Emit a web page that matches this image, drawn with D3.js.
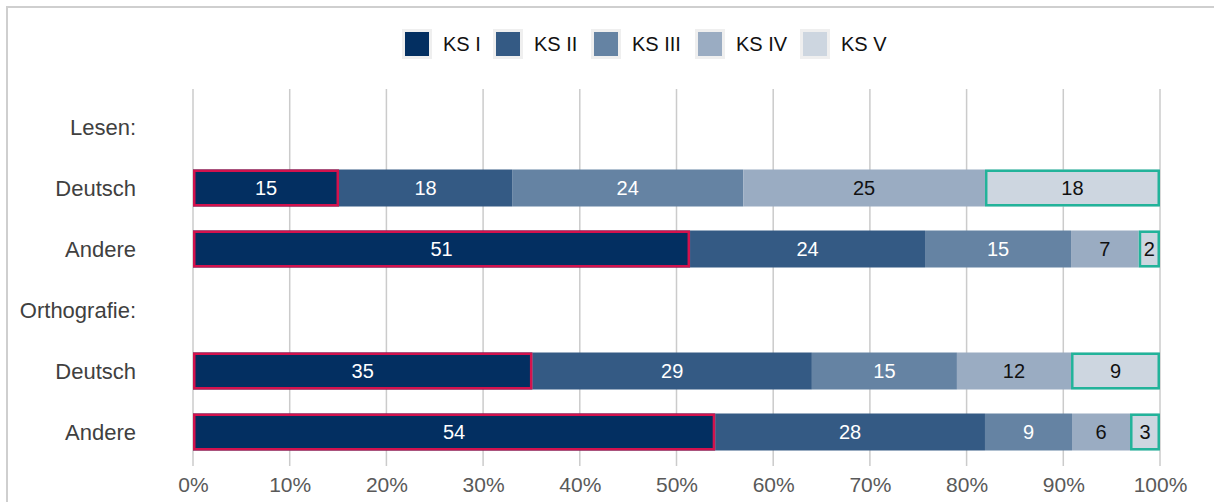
<!DOCTYPE html>
<html>
<head>
<meta charset="utf-8">
<script src="https://cdn.jsdelivr.net/npm/d3@7"></script>
<style>
  body { margin: 0; background: #fff; }
  svg { display: block; font-family: "Liberation Sans", Arial, sans-serif; }
</style>
</head>
<body>
<svg id="chart" width="1214" height="502"></svg>
<script>
const ROW_IDS = ["h1", "r1", "r2", "h2", "r3", "r4"];
const ROW_LABELS = ["Lesen:", "Deutsch", "Andere", "Orthografie:", "Deutsch", "Andere"];
const BAR_ROWS = ["r1", "r2", "r3", "r4"];
const LEVELS = ["KS I", "KS II", "KS III", "KS IV", "KS V"];
const COLORS = ["#032f61", "#345a84", "#6583a3", "#9aacc2", "#cdd6e0"];
const LABEL_COLORS = ["#fff", "#fff", "#fff", "#111", "#111"];

// percent shares per bar (rows r1..r4)
const KS1 = [15.1, 51.4, 35.1, 54.0];
const KS2 = [17.9, 24.3, 28.9, 27.9];
const KS3 = [23.9, 15.1, 15.0, 9.0];
const KS4 = [25.0, 7.0, 11.8, 6.0];
const KS5 = [18.1, 2.2, 9.2, 3.1];
const SERIES = [KS1, KS2, KS3, KS4, KS5];

const TICKS = [0, 10, 20, 30, 40, 50, 60, 70, 80, 90, 100];

const svg = d3.select("#chart");

// frame
svg.append("rect")
  .attr("x", 7).attr("y", 7)
  .attr("width", 1230).attr("height", 520)
  .attr("fill", "none")
  .attr("stroke", "#cfcfcf")
  .attr("stroke-width", 2);

const x = d3.scaleLinear().domain([0, 100]).range([193, 1160]);
const y = d3.scalePoint().domain(ROW_IDS).range([96.5, 462.5]).padding(0.5);
const barH = 37;

// grid
svg.append("g")
  .selectAll("line")
  .data(TICKS)
  .join("line")
  .attr("x1", (d) => x(d)).attr("x2", (d) => x(d))
  .attr("y1", 89).attr("y2", 466)
  .attr("stroke", "#cbcbcb")
  .attr("stroke-width", 1.5);

// x axis labels
const xAxis = d3.axisBottom(x).tickValues(TICKS).tickFormat((d) => d + "%").tickSize(0).tickPadding(0);
const gx = svg.append("g").attr("transform", "translate(0,477)").call(xAxis);
gx.select(".domain").remove();
gx.selectAll("text")
  .attr("font-size", 21)
  .attr("font-family", "Liberation Sans, Arial, sans-serif")
  .attr("fill", "#595959");

// row labels
const yAxis = d3.axisLeft(y).tickFormat((d, i) => ROW_LABELS[i]).tickSize(0).tickPadding(0);
const gy = svg.append("g").attr("transform", "translate(136,0)").call(yAxis);
gy.select(".domain").remove();
gy.selectAll("text")
  .attr("font-size", 22)
  .attr("font-family", "Liberation Sans, Arial, sans-serif")
  .attr("fill", "#404040");

// stacked segments
const segs = [];
BAR_ROWS.forEach((row, r) => {
  let acc = 0;
  SERIES.forEach((vals, k) => {
    segs.push({ row, k, x0: acc, x1: acc + vals[r], v: vals[r] });
    acc += vals[r];
  });
});

const gBars = svg.append("g");
gBars.selectAll("rect")
  .data(segs)
  .join("rect")
  .attr("x", (d) => x(d.x0))
  .attr("width", (d) => x(d.x1) - x(d.x0))
  .attr("y", (d) => y(d.row) - barH / 2)
  .attr("height", barH)
  .attr("fill", (d) => COLORS[d.k]);

// outlines for KS I and KS V
const sw = 2.5;
gBars.selectAll("rect.outline")
  .data(segs.filter((d) => d.k === 0 || d.k === 4))
  .join("rect")
  .attr("class", "outline")
  .attr("x", (d) => x(d.x0) + sw / 2)
  .attr("width", (d) => x(d.x1) - x(d.x0) - sw)
  .attr("y", (d) => y(d.row) - barH / 2 + sw / 2)
  .attr("height", barH - sw)
  .attr("fill", "none")
  .attr("stroke", (d) => (d.k === 0 ? "#d3124d" : "#22b39a"))
  .attr("stroke-width", sw);

gBars.selectAll("text")
  .data(segs)
  .join("text")
  .attr("x", (d) => (x(d.x0) + x(d.x1)) / 2)
  .attr("y", (d) => y(d.row))
  .attr("dy", "0.36em")
  .attr("text-anchor", "middle")
  .attr("font-size", 20)
  .attr("fill", (d) => LABEL_COLORS[d.k])
  .text((d) => Math.round(d.v));

// legend
const legendX = [405, 496, 594, 698, 803];
const legend = svg.append("g")
  .selectAll("g")
  .data(LEVELS)
  .join("g")
  .attr("transform", (d, i) => `translate(${legendX[i]},32)`);
legend.append("rect")
  .attr("x", -1.5).attr("y", -1.5)
  .attr("width", 27).attr("height", 27)
  .attr("fill", (d, i) => COLORS[i])
  .attr("stroke", "#efefef")
  .attr("stroke-width", 3);
legend.append("text")
  .attr("x", 38)
  .attr("y", 12)
  .attr("dy", "0.36em")
  .attr("font-size", 20)
  .attr("fill", "#111")
  .text((d) => d);
</script>
</body>
</html>
